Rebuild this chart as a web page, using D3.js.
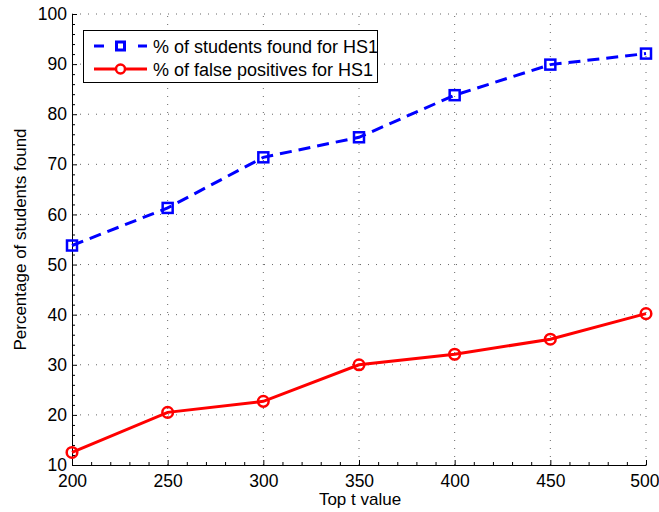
<!DOCTYPE html>
<html>
<head>
<meta charset="utf-8">
<script src="https://cdn.jsdelivr.net/npm/d3@7"></script>
<style>
  html, body { margin: 0; padding: 0; background: #fff; }
  svg { display: block; font-family: "Liberation Sans", Arial, Helvetica, sans-serif; }
</style>
</head>
<body>
<svg id="chart" width="659" height="512"></svg>
<script>
// ---- data ----
const topT = [200, 250, 300, 350, 400, 450, 500];
const studentsFound = [53.8, 61.3, 71.4, 75.4, 83.8, 89.9, 92.1];
const falsePositives = [12.5, 20.5, 22.7, 30.0, 32.1, 35.1, 40.2];
const xTicks = [200, 250, 300, 350, 400, 450, 500];
const yTicks = [10, 20, 30, 40, 50, 60, 70, 80, 90, 100];
const seriesNames = ["% of students found for HS1", "% of false positives for HS1"];
const xLabel = "Top t value";
const yLabel = "Percentage of students found";

// ---- layout ----
const svg = d3.select("#chart");
const L = 72, T = 14, R = 646, B = 465;
const x = d3.scaleLinear().domain([200, 500]).range([L, R]);
const y = d3.scaleLinear().domain([10, 100]).range([B, T]);

const xMinor = d3.range(200, 501, 10).filter(v => v % 50 !== 0);
const yMinor = d3.range(10, 101, 2).filter(v => v % 10 !== 0);

// grid
const grid = svg.append("g");
grid.selectAll("line.gx").data(xTicks.slice(1)).join("line")
  .attr("x1", d => x(d)).attr("x2", d => x(d))
  .attr("y1", B).attr("y2", T)
  .attr("stroke", "#000").attr("stroke-opacity", 0.6)
  .attr("stroke-width", 1).attr("stroke-dasharray", "1,7");
grid.selectAll("line.gy").data(yTicks.slice(1)).join("line")
  .attr("y1", d => y(d)).attr("y2", d => y(d))
  .attr("x1", L).attr("x2", R)
  .attr("stroke", "#000").attr("stroke-opacity", 0.6)
  .attr("stroke-width", 1).attr("stroke-dasharray", "1,7");

// axes (major, inward ticks)
const xAxis = svg.append("g").attr("transform", `translate(0,${B})`)
  .call(d3.axisBottom(x).tickValues(xTicks).tickSizeInner(-5).tickSizeOuter(0).tickPadding(10).tickFormat(d3.format("d")));
const yAxis = svg.append("g").attr("transform", `translate(${L},0)`)
  .call(d3.axisLeft(y).tickValues(yTicks).tickSizeInner(-5).tickSizeOuter(0).tickPadding(5).tickFormat(d3.format("d")));
// minor ticks
svg.append("g").attr("transform", `translate(0,${B})`)
  .call(d3.axisBottom(x).tickValues(xMinor).tickSizeInner(-3).tickSizeOuter(0).tickFormat(""))
  .select(".domain").remove();
svg.append("g").attr("transform", `translate(${L},0)`)
  .call(d3.axisLeft(y).tickValues(yMinor).tickSizeInner(-3).tickSizeOuter(0).tickFormat(""))
  .select(".domain").remove();

[xAxis, yAxis].forEach(a => {
  a.selectAll("text").attr("font-size", 17.5).attr("fill", "#000")
    .attr("font-family", "'Liberation Sans', Arial, sans-serif");
  a.select(".domain").attr("stroke", "#000");
});
// keep the last x label inside the page edge
xAxis.selectAll(".tick text").filter(d => d === 500)
  .attr("text-anchor", "end").attr("dx", 13);
svg.selectAll(".tick line").attr("stroke", "#000");

// axis labels
svg.append("text").attr("x", (L + R) / 2 + 1).attr("y", 505)
  .attr("text-anchor", "middle").attr("font-size", 17).text(xLabel);
svg.append("text").attr("transform", `translate(26,${(T + B) / 2}) rotate(-90)`)
  .attr("text-anchor", "middle").attr("font-size", 17).text(yLabel);

// series
const line = d3.line().x((d, i) => x(topT[i])).y(d => y(d));
svg.append("path").datum(studentsFound).attr("d", line)
  .attr("fill", "none").attr("stroke", "#0000ff").attr("stroke-width", 3)
  .attr("stroke-dasharray", "12,7");
svg.append("path").datum(falsePositives).attr("d", line)
  .attr("fill", "none").attr("stroke", "#ff0000").attr("stroke-width", 3);

svg.selectAll("rect.sq").data(studentsFound).join("rect")
  .attr("x", (d, i) => x(topT[i]) - 5).attr("y", d => y(d) - 5)
  .attr("width", 10).attr("height", 10)
  .attr("fill", "none").attr("stroke", "#0000ff").attr("stroke-width", 2.5);
svg.selectAll("circle.ci").data(falsePositives).join("circle")
  .attr("cx", (d, i) => x(topT[i])).attr("cy", d => y(d)).attr("r", 5.3)
  .attr("fill", "none").attr("stroke", "#ff0000").attr("stroke-width", 2.5);

// legend
const lg = svg.append("g");
lg.append("rect").attr("x", 83.5).attr("y", 30.5).attr("width", 294).attr("height", 52)
  .attr("fill", "#fff").attr("stroke", "#000").attr("stroke-width", 1);
// row 1
lg.append("line").attr("x1", 94).attr("x2", 147).attr("y1", 46).attr("y2", 46)
  .attr("stroke", "#0000ff").attr("stroke-width", 3).attr("stroke-dasharray", "10,17,0,17,10");
lg.append("rect").attr("x", 116.5).attr("y", 42).attr("width", 8).attr("height", 8)
  .attr("fill", "none").attr("stroke", "#0000ff").attr("stroke-width", 3);
lg.append("text").attr("x", 153).attr("y", 52.5).attr("font-size", 18).text(seriesNames[0]);
// row 2
lg.append("line").attr("x1", 94).attr("x2", 147).attr("y1", 69).attr("y2", 69)
  .attr("stroke", "#ff0000").attr("stroke-width", 3);
lg.append("circle").attr("cx", 120.5).attr("cy", 69).attr("r", 4.5)
  .attr("fill", "#fff").attr("stroke", "#ff0000").attr("stroke-width", 2.5);
lg.append("text").attr("x", 153).attr("y", 75.5).attr("font-size", 18).text(seriesNames[1]);
</script>
</body>
</html>
